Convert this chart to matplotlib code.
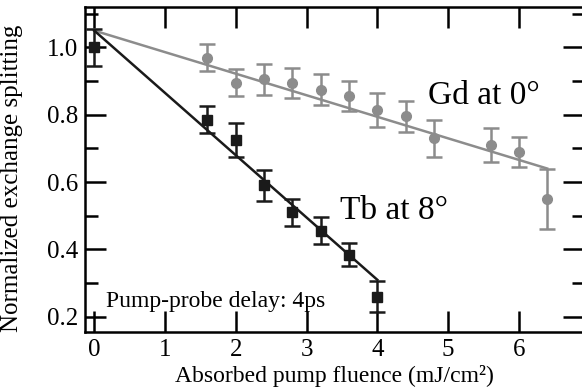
import numpy as np
import matplotlib
matplotlib.use("Agg")
import matplotlib.pyplot as plt
from matplotlib.ticker import MultipleLocator

# ============================================================
# DATA
# ============================================================
tb_x = [0.0, 1.6, 2.0, 2.4, 2.8, 3.2, 3.6, 4.0]
tb_y = [1.00, 0.785, 0.725, 0.59, 0.51, 0.455, 0.385, 0.26]
tb_err = [0.055, 0.04, 0.05, 0.045, 0.04, 0.04, 0.035, 0.045]

gd_x = [1.6, 2.0, 2.4, 2.8, 3.2, 3.6, 4.0, 4.4, 4.8, 5.6, 6.0, 6.4]
gd_y = [0.97, 0.895, 0.905, 0.895, 0.875, 0.855, 0.815, 0.795, 0.73, 0.71, 0.69, 0.55]
gd_err = [0.04, 0.04, 0.045, 0.045, 0.045, 0.045, 0.05, 0.045, 0.055, 0.05, 0.045, 0.09]

# linear fits: intercept, slope, x-range
tb_fit = (1.05, -0.185, 0.0, 4.0)
gd_fit = (1.05, -0.064, 0.0, 6.4)

xticks = [0, 1, 2, 3, 4, 5, 6]
yticks = [0.2, 0.4, 0.6, 0.8, 1.0]

BLACK = "#1a1a1a"
GREY = "#8c8c8c"

plt.rcParams["font.family"] = ["Liberation Serif", "DejaVu Serif"]

fig = plt.figure(figsize=(5.82, 3.92), dpi=100)
ax = fig.add_axes([85 / 582, 60 / 392, 499 / 582, 325 / 392])

# ============================================================
# FIT LINES
# ============================================================
for (b, m, x0, x1), c in [(gd_fit, GREY), (tb_fit, BLACK)]:
    xx = np.array([x0, x1])
    ax.plot(xx, b + m * xx, color=c, lw=1.8, zorder=2)

# ============================================================
# DATA POINTS
# ============================================================
ax.errorbar(gd_x, gd_y, yerr=gd_err, fmt="o", color=GREY, ms=7,
            elinewidth=1.8, capsize=6, capthick=1.8, zorder=3)
ax.errorbar(tb_x, tb_y, yerr=tb_err, fmt="s", color=BLACK, ms=7,
            elinewidth=1.8, capsize=6, capthick=1.8, zorder=4)

# ============================================================
# AXES STYLE
# ============================================================
ax.set_xlim(-0.13, 6.92)
ax.set_ylim(0.155, 1.12)
ax.set_xticks(xticks)
ax.set_yticks(yticks)
ax.set_yticklabels([f"{v:.1f}" for v in yticks])
ax.yaxis.set_minor_locator(MultipleLocator(0.1))
ax.tick_params(which="both", direction="in", top=True, right=True,
               width=1.8, labelsize=18)
ax.tick_params(which="major", length=15, pad=5)
ax.tick_params(which="minor", length=9)
ax.tick_params(axis="x", which="minor", top=False, bottom=False)
for s in ax.spines.values():
    s.set_linewidth(1.8)

ax.set_xlabel("Absorbed pump fluence (mJ/cm²)", fontsize=17, labelpad=3)
ax.set_ylabel("Normalized exchange splitting", fontsize=18)
ax.yaxis.set_label_coords(-0.124, 0.474)

ax.text(4.72, 0.857, "Gd at 0°", fontsize=24, va="center", ha="left")
ax.text(3.47, 0.515, "Tb at 8°", fontsize=24, va="center", ha="left")
ax.text(0.16, 0.245, "Pump-probe delay: 4ps", fontsize=17, va="center", ha="left")

fig.savefig("out.png", dpi=100)
